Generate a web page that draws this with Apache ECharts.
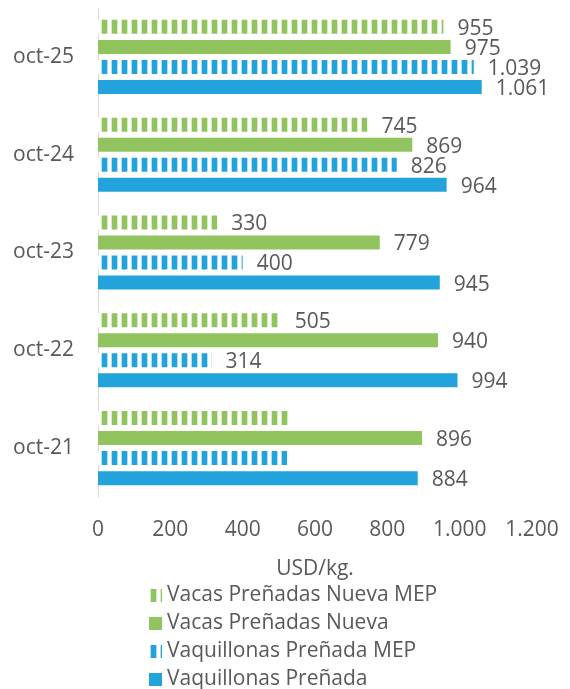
<!DOCTYPE html>
<html>
<head>
<meta charset="utf-8">
<script src="https://cdn.jsdelivr.net/npm/echarts@6/dist/echarts.min.js"></script>
<style>
  html, body { margin: 0; padding: 0; background: #fff; }
  #chart { width: 570px; height: 689px; }
</style>
</head>
<body>
<div id="chart"></div>
<script>
    // datos (USD/kg.)
    var categories = ['oct-21', 'oct-22', 'oct-23', 'oct-24', 'oct-25']
    var vacasMep = [526, 505, 330, 745, 955]
    var vacasNueva = [896, 940, 779, 869, 975]
    var vaquillonasMep = [523, 314, 400, 826, 1039]
    var vaquillonas = [884, 994, 945, 964, 1061]
    // oct-21 MEP sin etiqueta en el original
    var hiddenLabels = { 'oct-21': true }
    var xTicks = [0, 200, 400, 600, 800, 1000, 1200]

    var GREEN = '#91c35f'
    var BLUE = '#22a3db'
    var TEXT = '#595959'
    var FONT = 'Open Sans'

    function fmt (v) {
        return String(v).replace(/\B(?=(\d{3})+(?!\d))/g, '.')
    }

    function stripes (color) {
        var c = document.createElement('canvas')
        c.width = 10
        c.height = 10
        var ctx = c.getContext('2d')
        ctx.fillStyle = '#ffffff'
        ctx.fillRect(0, 0, 10, 10)
        ctx.fillStyle = color
        ctx.fillRect(2, 0, 5, 10)
        ctx.globalAlpha = 0.35
        ctx.fillRect(1, 0, 1, 10)
        ctx.fillRect(7, 0, 1, 10)
        return { image: c, repeat: 'repeat' }
    }

    function makeData (values, mep) {
        return values.map(function (v, i) {
            var item = { value: v }
            if (mep && hiddenLabels[categories[i]]) {
                item.label = { show: false }
            }
            return item
        })
    }

    function barSeries (name, values, color, mep) {
        return {
            name: name,
            type: 'bar',
            data: makeData(values, mep),
            barWidth: 14,
            barGap: '43%',
            itemStyle: { color: mep ? stripes(color) : color },
            label: {
                show: true,
                position: 'right',
                distance: 14,
                offset: [0, 2],
                color: TEXT,
                fontFamily: FONT,
                fontSize: 21,
                formatter: function (p) { return fmt(p.value) }
            },
            animation: false
        }
    }

    var chart = echarts.init(document.getElementById('chart'))
    chart.setOption({
        textStyle: { fontFamily: FONT },
        grid: {
            left: 98,
            right: 38,
            top: 8,
            bottom: 192,
            containLabel: false
        },
        legend: {
            orient: 'vertical',
            left: 149,
            bottom: -1,
            padding: 0,
            itemWidth: 13,
            itemHeight: 13,
            itemGap: 7,
            icon: 'rect',
            textStyle: { color: TEXT, fontSize: 21, fontFamily: FONT, lineHeight: 20 },
            data: ['Vacas Preñadas Nueva MEP', 'Vacas Preñadas Nueva', 'Vaquillonas Preñada MEP', 'Vaquillonas Preñada']
        },
        xAxis: {
            type: 'value',
            min: xTicks[0],
            max: xTicks[xTicks.length - 1],
            interval: 200,
            splitLine: { show: false },
            axisLine: { show: false },
            axisTick: { show: false },
            axisLabel: {
                color: TEXT,
                fontSize: 21,
                fontFamily: FONT,
                margin: 23,
                formatter: function (v) { return fmt(v) }
            },
            name: 'USD/kg.',
            nameLocation: 'middle',
            nameGap: 62,
            nameTextStyle: { color: TEXT, fontSize: 21, fontFamily: FONT }
        },
        yAxis: {
            type: 'category',
            data: categories,
            axisLine: { show: true, lineStyle: { color: '#d9d9d9', width: 1 } },
            axisTick: { show: false },
            axisLabel: { color: TEXT, fontSize: 21, fontFamily: FONT, margin: 24 }
        },
        series: [
            barSeries('Vacas Preñadas Nueva MEP', vacasMep, GREEN, true),
            barSeries('Vacas Preñadas Nueva', vacasNueva, GREEN, false),
            barSeries('Vaquillonas Preñada MEP', vaquillonasMep, BLUE, true),
            barSeries('Vaquillonas Preñada', vaquillonas, BLUE, false)
        ]
    })
</script>
</body>
</html>
